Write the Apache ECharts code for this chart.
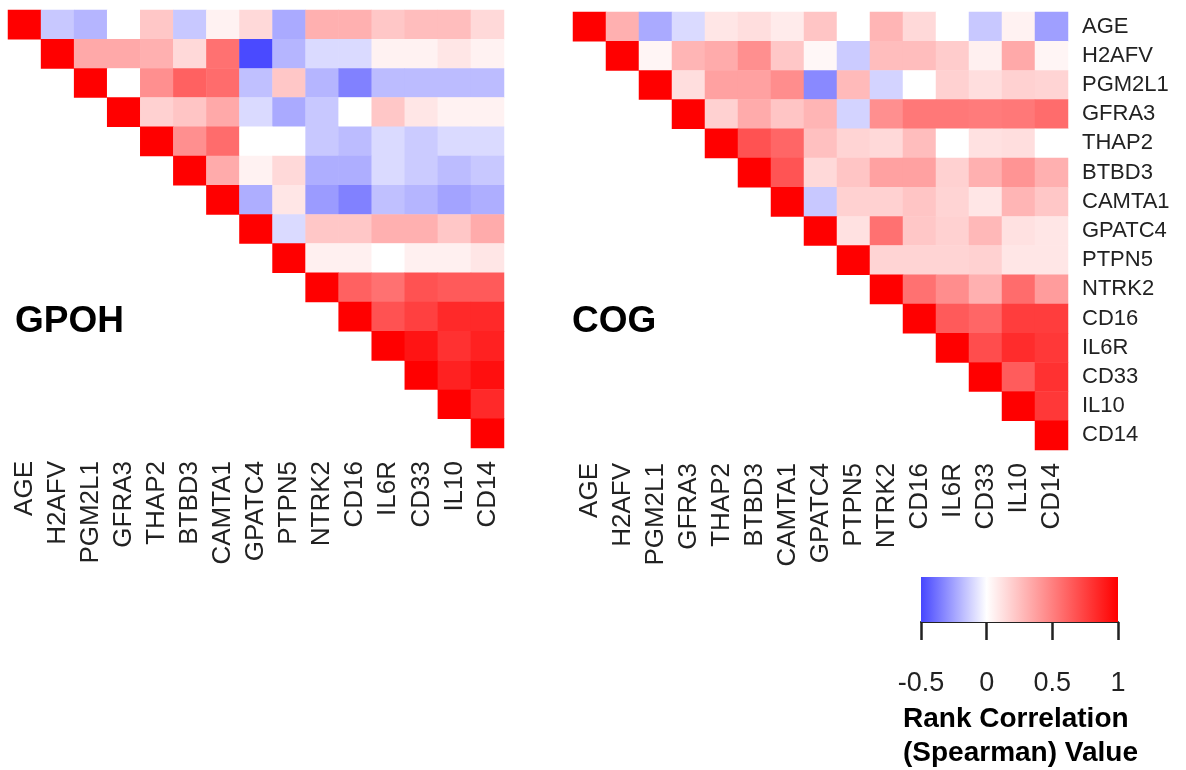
<!DOCTYPE html>
<html><head><meta charset="utf-8">
<script src="https://cdn.jsdelivr.net/npm/echarts@6/dist/echarts.min.js"></script>
<style>html,body{margin:0;padding:0;background:#fff}#c{width:1186px;height:770px}</style>
</head><body><div id="c"></div>
<script>
const labels = ['AGE','H2AFV','PGM2L1','GFRA3','THAP2','BTBD3','CAMTA1','GPATC4','PTPN5','NTRK2','CD16','IL6R','CD33','IL10','CD14'];
// upper-triangle rows, each starting at the diagonal
const gpohRows = [
  [1, -0.15, -0.2, 0, 0.22, -0.15, 0.05, 0.15, -0.23, 0.31, 0.31, 0.22, 0.26, 0.26, 0.15],
  [1, 0.34, 0.34, 0.31, 0.15, 0.56, -0.49, -0.2, -0.1, -0.1, 0.05, 0.05, 0.1, 0.05],
  [1, 0, 0.44, 0.62, 0.58, -0.17, 0.22, -0.2, -0.34, -0.18, -0.18, -0.18, -0.18],
  [1, 0.18, 0.23, 0.34, -0.1, -0.23, -0.15, 0, 0.22, 0.1, 0.05, 0.05],
  [1, 0.44, 0.58, 0, 0, -0.15, -0.18, -0.1, -0.14, -0.1, -0.1],
  [1, 0.33, 0.05, 0.15, -0.22, -0.22, -0.1, -0.14, -0.18, -0.15],
  [1, -0.22, 0.1, -0.27, -0.34, -0.17, -0.2, -0.25, -0.22],
  [1, -0.1, 0.22, 0.22, 0.31, 0.31, 0.22, 0.33],
  [1, 0.06, 0.06, 0, 0.06, 0.06, 0.1],
  [1, 0.62, 0.56, 0.68, 0.65, 0.65],
  [1, 0.68, 0.75, 0.84, 0.84],
  [1, 0.92, 0.81, 0.87],
  [1, 0.87, 0.94],
  [1, 0.84],
  [1]
];
const cogRows = [
  [1, 0.31, -0.23, -0.1, 0.1, 0.13, 0.08, 0.23, 0, 0.29, 0.15, 0, -0.15, 0.05, -0.26],
  [1, 0.04, 0.29, 0.33, 0.44, 0.22, 0.03, -0.14, 0.26, 0.26, 0.2, 0.06, 0.34, 0.04],
  [1, 0.13, 0.37, 0.37, 0.45, -0.32, 0.27, -0.12, 0, 0.18, 0.13, 0.18, 0.17],
  [1, 0.18, 0.33, 0.23, 0.29, -0.12, 0.44, 0.53, 0.53, 0.52, 0.53, 0.58],
  [1, 0.68, 0.6, 0.25, 0.17, 0.15, 0.26, 0, 0.12, 0.13, 0],
  [1, 0.67, 0.15, 0.23, 0.37, 0.37, 0.18, 0.31, 0.42, 0.31],
  [1, -0.15, 0.18, 0.18, 0.23, 0.17, 0.1, 0.29, 0.22],
  [1, 0.12, 0.56, 0.22, 0.18, 0.28, 0.12, 0.1],
  [1, 0.17, 0.17, 0.17, 0.18, 0.1, 0.1],
  [1, 0.56, 0.45, 0.31, 0.58, 0.39],
  [1, 0.65, 0.6, 0.76, 0.76],
  [1, 0.7, 0.83, 0.78],
  [1, 0.64, 0.81],
  [1, 0.78],
  [1]
];
const scaleTicks = [-0.5, 0, 0.5, 1];
const scaleColors = ['#4646ff', '#ffffff', '#ff8080', '#ff0000'];
const panelTitles = ['GPOH', 'COG'];
const legendTitle = 'Rank Correlation\n(Spearman) Value';

function toCells(rows) {
  const out = [];
  rows.forEach((row, i) => row.forEach((v, k) => out.push([i + k, i, v])));
  return out;
}
const FONT = '"Liberation Sans", Arial, Helvetica, sans-serif';
const chart = echarts.init(document.getElementById('c'), null, {renderer: 'canvas'});
const catX = (gi) => ({
  type: 'category', gridIndex: gi, data: labels, position: 'bottom',
  axisLine: {show: false}, axisTick: {show: false}, splitLine: {show: false},
  axisLabel: {rotate: 90, interval: 0, fontSize: 26, color: '#222', fontFamily: FONT, margin: 13}
});
const catY = (gi, showLab) => ({
  type: 'category', gridIndex: gi, data: labels, inverse: true, position: 'right',
  axisLine: {show: false}, axisTick: {show: false}, splitLine: {show: false},
  axisLabel: {show: showLab, interval: 0, fontSize: 22, color: '#222', fontFamily: FONT, margin: 14}
});
const grad = new echarts.graphic.LinearGradient(0, 0, 1, 0, scaleColors.map((c, i) => ({offset: i / (scaleColors.length - 1), color: c})));
chart.setOption({
  animation: false,
  backgroundColor: '#fff',
  title: [
    {text: panelTitles[0], left: 10, top: 298, textStyle: {fontSize: 37, fontWeight: 'bold', color: '#000', fontFamily: FONT}},
    {text: panelTitles[1], left: 567, top: 298, textStyle: {fontSize: 37, fontWeight: 'bold', color: '#000', fontFamily: FONT}},
    {text: legendTitle, left: 898, top: 697, textStyle: {fontSize: 28, fontWeight: 'bold', color: '#000', fontFamily: FONT, lineHeight: 34}}
  ],
  grid: [
    {left: 8, top: 10, width: 496, height: 438},
    {left: 573, top: 12, width: 495, height: 438},
    {left: 921, top: 577, width: 197, height: 45}
  ],
  xAxis: [catX(0), catX(1), {
    type: 'value', gridIndex: 2, min: scaleTicks[0], max: scaleTicks[scaleTicks.length - 1], interval: 0.5,
    axisLine: {show: true, lineStyle: {color: '#222', width: 2}},
    axisTick: {show: true, length: 18, lineStyle: {color: '#222', width: 2.5}},
    splitLine: {show: false},
    axisLabel: {fontSize: 27, color: '#222', fontFamily: FONT, margin: 48, formatter: v => String(v)}
  }],
  yAxis: [catY(0, false), catY(1, true), {type: 'value', gridIndex: 2, min: 0, max: 1, show: false}],
  visualMap: {
    type: 'continuous', show: false, min: scaleTicks[0], max: scaleTicks[scaleTicks.length - 1],
    seriesIndex: [0, 1], inRange: {color: scaleColors}
  },
  series: [
    {type: 'heatmap', xAxisIndex: 0, yAxisIndex: 0, data: toCells(gpohRows), itemStyle: {borderWidth: 0}},
    {type: 'heatmap', xAxisIndex: 1, yAxisIndex: 1, data: toCells(cogRows), itemStyle: {borderWidth: 0}},
    {type: 'line', xAxisIndex: 2, yAxisIndex: 2, data: [], silent: true,
     markArea: {silent: true, data: [[{xAxis: scaleTicks[0], yAxis: 0, itemStyle: {color: grad}}, {xAxis: scaleTicks[scaleTicks.length - 1], yAxis: 1}]]}}
  ]
});
</script></body></html>
